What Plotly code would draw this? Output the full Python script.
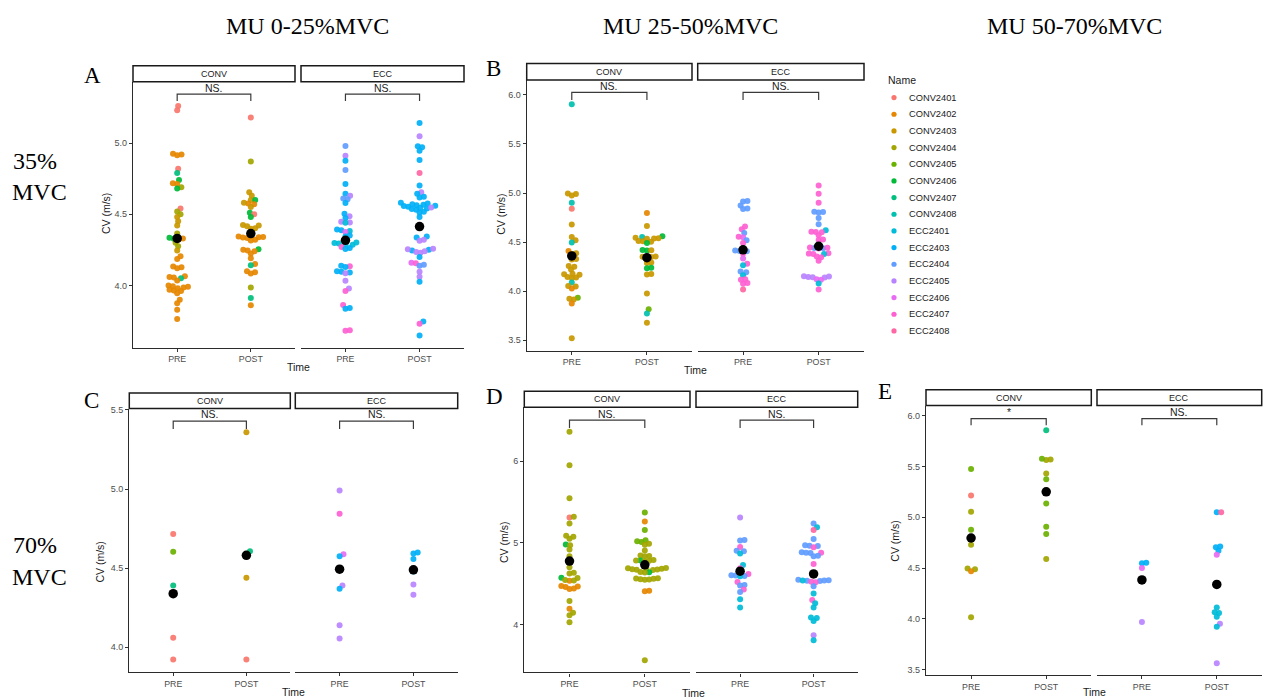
import math
import plotly.graph_objects as go

# ---------------- DATA ----------------
SUBJECTS = ["CONV2401", "CONV2402", "CONV2403", "CONV2404", "CONV2405", "CONV2406", "CONV2407", "CONV2408",
            "ECC2401", "ECC2403", "ECC2404", "ECC2405", "ECC2406", "ECC2407", "ECC2408"]
CODES = ["C1", "C2", "C3", "C4", "C5", "C6", "C7", "C8", "E1", "E3", "E4", "E5", "E6", "E7", "E8"]
COLORS = ["#F8766D", "#E58700", "#C99800", "#A3A500", "#6BB100", "#00BA38", "#00BF7D", "#00C0AF",
          "#00BCD8", "#00B0F6", "#619CFF", "#B983FF", "#E76BF3", "#FD61D1", "#FF67A4"]
TIMES = ["PRE", "POST"]
GROUPS = ["CONV", "ECC"]
COL_TITLES = ["MU 0-25%MVC", "MU 25-50%MVC", "MU 50-70%MVC"]

# Panel A (35% MVC, MU 0-25%)
A_CONV_PRE_ID = ["C1", "C1", "C2", "C2", "C2", "C1", "C7", "C6", "C2", "C2", "C4", "C6", "C1", "C4", "C4", "C3",
                 "C3", "C3", "C4", "C2", "C2", "C6", "C6", "C4", "C4", "C3", "C2", "C2", "C2", "C2", "C2", "C2",
                 "C2", "C2", "C7", "C2", "C2", "C2", "C2", "C2", "C2", "C2", "C2", "C2", "C2", "C2", "C2", "C2",
                 "C2"]
A_CONV_PRE_CV = [5.26, 5.23, 4.92, 4.925, 4.915, 4.82, 4.79, 4.74, 4.712, 4.718, 4.69, 4.68, 4.54, 4.52, 4.50, 4.48,
                 4.45, 4.42, 4.365, 4.322, 4.33, 4.334, 4.328, 4.30, 4.275, 4.245, 4.205, 4.185, 4.127, 4.133, 4.12,
                 4.055, 4.06, 4.065, 4.05, 4.035, 3.98, 3.985, 3.99, 3.995, 4.0, 3.96, 3.965, 3.97, 3.945, 3.90, 3.875,
                 3.83, 3.765]
A_CONV_POST_ID = ["C1", "C4", "C3", "C3", "C3", "C6", "C2", "C2", "C3", "C3", "C6", "C1", "C6", "C3", "C3", "C3",
                  "C3", "C3", "C2", "C2", "C2", "C2", "C2", "C2", "C2", "C2", "C6", "C2", "C2", "C2", "C2", "C2",
                  "C2", "C7", "C2", "C2", "C2", "C4", "C7", "C2"]
A_CONV_POST_CV = [5.18, 4.87, 4.655, 4.63, 4.60, 4.60, 4.57, 4.575, 4.58, 4.55, 4.51, 4.50, 4.48, 4.415, 4.42, 4.425,
                  4.398, 4.402, 4.333, 4.336, 4.34, 4.343, 4.347, 4.338, 4.315, 4.32, 4.254, 4.24, 4.245, 4.25, 4.224,
                  4.19, 4.15, 4.142, 4.093, 4.099, 4.084, 3.986, 3.911, 3.86]
A_ECC_PRE_ID = ["E4", "E5", "E3", "E4", "E3", "E3", "E5", "E4", "E4", "E3", "E3", "E5", "E3", "E5", "E5", "E1",
                "E1", "E3", "E3", "E6", "E3", "E3", "E1", "E1", "E1", "E1", "E1", "E7", "E3", "E3", "E7", "E3",
                "E3", "E3", "E3", "E3", "E5", "E5", "E5", "E7", "E7", "E3", "E3", "E7", "E7"]
A_ECC_PRE_CV = [4.98, 4.91, 4.875, 4.81, 4.713, 4.643, 4.63, 4.605, 4.611, 4.578, 4.503, 4.485, 4.473, 4.442, 4.448,
                4.44, 4.382, 4.387, 4.392, 4.375, 4.344, 4.35, 4.285, 4.29, 4.294, 4.298, 4.302, 4.27, 4.256, 4.262,
                4.135, 4.138, 4.13, 4.09, 4.096, 4.1, 4.085, 4.033, 3.979, 3.96, 3.862, 3.836, 3.842, 3.681, 3.685]
A_ECC_POST_ID = ["E3", "E5", "E3", "E3", "E3", "E3", "E8", "E3", "E5", "E3", "E3", "E3", "E3", "E3", "E3", "E3",
                 "E3", "E3", "E3", "E3", "E3", "E3", "E3", "E3", "E5", "E3", "E3", "E3", "E3", "E3", "E5", "E5",
                 "E3", "E3", "E5", "E5", "E5", "E5", "E5", "E3", "E6", "E7", "E4", "E4", "E5", "E5", "E3", "E3",
                 "E7", "E3"]
A_ECC_POST_CV = [5.14, 5.047, 4.971, 4.977, 4.946, 4.881, 4.79, 4.702, 4.655, 4.643, 4.617, 4.623, 4.553, 4.557,
                 4.56, 4.563, 4.566, 4.57, 4.575, 4.58, 4.532, 4.536, 4.54, 4.545, 4.548, 4.512, 4.518, 4.48, 4.337,
                 4.343, 4.314, 4.32, 4.246, 4.25, 4.254, 4.258, 4.23, 4.235, 4.24, 4.20, 4.159, 4.155, 4.139, 4.145,
                 4.096, 4.061, 4.026, 3.746, 3.73, 3.648]
A_MEANS = [4.33, 4.364, 4.317, 4.413]
A_SIG = ["NS.", "NS."]

# Panel B (35% MVC, MU 25-50%)
B_CONV_PRE_ID = ["C8", "C3", "C3", "C3", "C8", "C1", "C3", "C3", "C3", "C8", "C2", "C3", "C3", "C3", "C3", "C3",
                 "C3", "C3", "C3", "C3", "C3", "C3", "C3", "C3", "C8", "C3", "C3", "C2", "C5", "C3", "C3", "C2",
                 "C3"]
B_CONV_PRE_CV = [5.905, 4.99, 4.995, 4.975, 4.90, 4.84, 4.68, 4.552, 4.518, 4.495, 4.41, 4.38, 4.386, 4.322, 4.328,
                 4.25, 4.258, 4.22, 4.168, 4.173, 4.178, 4.134, 4.139, 4.144, 4.089, 4.048, 4.054, 4.028, 3.933,
                 3.916, 3.922, 3.876, 3.52]
B_CONV_POST_ID = ["C2", "C3", "C8", "C6", "C3", "C3", "C3", "C3", "C3", "C3", "C3", "C6", "C6", "C6", "C3", "C3",
                  "C3", "C3", "C3", "C3", "C3", "C6", "C6", "C3", "C3", "C3", "C5", "C8", "C3"]
B_CONV_POST_CV = [4.796, 4.664, 4.552, 4.559, 4.535, 4.54, 4.545, 4.538, 4.505, 4.508, 4.512, 4.49, 4.414, 4.42, 4.417,
                  4.346, 4.35, 4.354, 4.348, 4.288, 4.293, 4.234, 4.24, 4.17, 4.176, 3.977, 3.815, 3.774, 3.679]
B_ECC_PRE_ID = ["E4", "E4", "E4", "E4", "E4", "E7", "E7", "E4", "E6", "E7", "E4", "E7", "E4", "E4", "E4", "E7",
                "E6", "E7", "E1", "E4", "E4", "E1", "E7", "E7", "E7", "E7", "E8"]
B_ECC_PRE_CV = [4.914, 4.92, 4.874, 4.837, 4.843, 4.66, 4.63, 4.593, 4.55, 4.555, 4.518, 4.491, 4.406, 4.41, 4.414,
                4.383, 4.332, 4.28, 4.265, 4.194, 4.2, 4.163, 4.116, 4.122, 4.077, 4.083, 4.018]
B_ECC_POST_ID = ["E7", "E7", "E7", "E4", "E4", "E4", "E4", "E4", "E1", "E7", "E7", "E7", "E7", "E7", "E7", "E4",
                 "E4", "E7", "E7", "E7", "E7", "E7", "E7", "E1", "E7", "E7", "E7", "E5", "E5", "E5", "E5", "E5",
                 "E6", "E6", "E1", "E7"]
B_ECC_POST_CV = [5.077, 4.992, 4.901, 4.803, 4.806, 4.809, 4.745, 4.681, 4.62, 4.6, 4.603, 4.606, 4.569, 4.522,
                 4.528, 4.437, 4.44, 4.443, 4.446, 4.434, 4.38, 4.383, 4.386, 4.38, 4.347, 4.353, 4.31, 4.14, 4.143,
                 4.146, 4.149, 4.152, 4.116, 4.122, 4.078, 4.018]
B_MEANS = [4.359, 4.342, 4.422, 4.458]
B_SIG = ["NS.", "NS."]

# Panel C (70% MVC, MU 0-25%)
C_CONV_PRE_ID = ["C1", "C5", "C7", "C1", "C1"]
C_CONV_PRE_CV = [4.715, 4.604, 4.39, 4.059, 3.922]
C_CONV_POST_ID = ["C3", "C7", "C1", "C3", "C1"]
C_CONV_POST_CV = [5.359, 4.606, 4.59, 4.439, 3.922]
C_ECC_PRE_ID = ["E5", "E7", "E6", "E3", "E5", "E3", "E5", "E5"]
C_ECC_PRE_CV = [4.99, 4.843, 4.588, 4.575, 4.39, 4.369, 4.139, 4.055]
C_ECC_POST_ID = ["E3", "E3", "E3", "E3", "E5", "E5"]
C_ECC_POST_CV = [4.593, 4.599, 4.558, 4.478, 4.397, 4.332]
C_MEANS = [4.338, 4.581, 4.493, 4.489]
C_SIG = ["NS.", "NS."]

# Panel D (70% MVC, MU 25-50%)
D_CONV_PRE_ID = ["C4", "C4", "C4", "C1", "C4", "C4", "C4", "C4", "C4", "C6", "C4", "C4", "C4", "C2", "C4", "C4",
                 "C4", "C6", "C4", "C2", "C4", "C4", "C2", "C2", "C2", "C2", "C2", "C4", "C2", "C4", "C4", "C4"]
D_CONV_PRE_CV = [6.357, 5.947, 5.546, 5.31, 5.32, 5.237, 5.075, 5.085, 5.05, 4.98, 4.97, 4.917, 4.836, 4.78, 4.70,
                 4.625, 4.635, 4.572, 4.57, 4.535, 4.54, 4.545, 4.46, 4.466, 4.472, 4.435, 4.441, 4.288, 4.195, 4.146,
                 4.114, 4.03]
D_CONV_POST_ID = ["C5", "C2", "C5", "C5", "C5", "C5", "C4", "C4", "C4", "C4", "C4", "C4", "C6", "C4", "C4", "C4",
                  "C4", "C4", "C4", "C4", "C4", "C4", "C4", "C4", "C4", "C6", "C4", "C4", "C4", "C4", "C4", "C4",
                  "C4", "C4", "C2", "C2", "C4"]
D_CONV_POST_CV = [5.371, 5.262, 5.156, 5.01, 5.02, 5.03, 4.975, 4.99, 4.905, 4.835, 4.84, 4.845, 4.783, 4.775, 4.78,
                  4.785, 4.79, 4.67, 4.674, 4.678, 4.682, 4.686, 4.69, 4.668, 4.692, 4.64, 4.636, 4.644, 4.552,
                  4.556, 4.56, 4.564, 4.568, 4.548, 4.407, 4.413, 3.566]
D_ECC_PRE_ID = ["E5", "E4", "E4", "E7", "E4", "E4", "E1", "E1", "E7", "E7", "E4", "E4", "E4", "E1", "E7", "E4",
                "E4", "E7", "E4", "E1", "E1"]
D_ECC_PRE_CV = [5.31, 5.027, 5.033, 4.95, 4.897, 4.903, 4.87, 4.73, 4.69, 4.62, 4.596, 4.6, 4.604, 4.59, 4.52, 4.477,
                4.483, 4.43, 4.40, 4.31, 4.21]
D_ECC_POST_ID = ["E4", "E1", "E8", "E4", "E4", "E4", "E4", "E7", "E4", "E4", "E4", "E7", "E4", "E4", "E7", "E4",
                 "E4", "E4", "E4", "E4", "E1", "E7", "E7", "E4", "E1", "E7", "E1", "E1", "E1", "E1", "E1", "E5",
                 "E1"]
D_ECC_POST_CV = [5.237, 5.19, 5.156, 5.047, 4.96, 4.965, 4.97, 4.945, 4.875, 4.88, 4.885, 4.88, 4.837, 4.843, 4.74,
                 4.532, 4.536, 4.54, 4.544, 4.548, 4.54, 4.517, 4.523, 4.47, 4.38, 4.30, 4.26, 4.21, 4.082, 4.088,
                 4.045, 3.87, 3.81]
D_MEANS = [4.777, 4.731, 4.653, 4.62]
D_SIG = ["NS.", "NS."]

# Panel E (70% MVC, MU 50-70%)
E_CONV_PRE_ID = ["C5", "C1", "C4", "C5", "C4", "C4", "C4", "C2", "C4"]
E_CONV_PRE_CV = [5.476, 5.215, 5.054, 4.878, 4.73, 4.488, 4.494, 4.468, 4.014]
E_CONV_POST_ID = ["C7", "C4", "C4", "C5", "C4", "C5", "C5", "C5", "C5", "C4"]
E_CONV_POST_CV = [5.859, 5.566, 5.571, 5.577, 5.431, 5.375, 5.136, 4.907, 4.835, 4.59]
E_ECC_PRE_ID = ["E3", "E3", "E6", "E5"]
E_ECC_PRE_CV = [4.547, 4.553, 4.50, 3.968]
E_ECC_POST_ID = ["E3", "E8", "E3", "E3", "E3", "E6", "E1", "E1", "E1", "E1", "E5", "E1", "E5"]
E_ECC_POST_CV = [5.05, 5.05, 4.705, 4.712, 4.67, 4.63, 4.11, 4.057, 4.063, 4.02, 3.95, 3.92, 3.56]
E_MEANS = [4.796, 5.251, 4.383, 4.338]
E_SIG = ["*", "NS."]

PANEL_DATA = {
    "A": ([[A_CONV_PRE_ID, A_CONV_PRE_CV], [A_CONV_POST_ID, A_CONV_POST_CV],
           [A_ECC_PRE_ID, A_ECC_PRE_CV], [A_ECC_POST_ID, A_ECC_POST_CV]], A_MEANS, A_SIG),
    "B": ([[B_CONV_PRE_ID, B_CONV_PRE_CV], [B_CONV_POST_ID, B_CONV_POST_CV],
           [B_ECC_PRE_ID, B_ECC_PRE_CV], [B_ECC_POST_ID, B_ECC_POST_CV]], B_MEANS, B_SIG),
    "C": ([[C_CONV_PRE_ID, C_CONV_PRE_CV], [C_CONV_POST_ID, C_CONV_POST_CV],
           [C_ECC_PRE_ID, C_ECC_PRE_CV], [C_ECC_POST_ID, C_ECC_POST_CV]], C_MEANS, C_SIG),
    "D": ([[D_CONV_PRE_ID, D_CONV_PRE_CV], [D_CONV_POST_ID, D_CONV_POST_CV],
           [D_ECC_PRE_ID, D_ECC_PRE_CV], [D_ECC_POST_ID, D_ECC_POST_CV]], D_MEANS, D_SIG),
    "E": ([[E_CONV_PRE_ID, E_CONV_PRE_CV], [E_CONV_POST_ID, E_CONV_POST_CV],
           [E_ECC_PRE_ID, E_ECC_PRE_CV], [E_ECC_POST_ID, E_ECC_POST_CV]], E_MEANS, E_SIG),
}

# ---------------- LAYOUT (pixel geometry) ----------------
W, H = 1263, 698
PANEL_BOX = {
    "A": dict(conv=(133, 295), ecc=(301, 464), top=79, bottom=346, strip=63, yr=(3.564, 5.431),
              ticks=[4.0, 4.5, 5.0], fmt="{:.1f}", br=(5.343, 5.296, 5.385),
              ytitle=(106, 212), xtitle=(298, 366), letter=(82, 73)),
    "B": dict(conv=(526.7, 692), ecc=(697.7, 864), top=77.3, bottom=349, strip=60.7, yr=(3.396, 6.152),
              ticks=[3.5, 4.0, 4.5, 5.0, 5.5, 6.0], fmt="{:.1f}", br=(6.026, 5.949, 6.086),
              ytitle=(500.7, 212), xtitle=(695, 369), letter=(484, 66)),
    "C": dict(conv=(129.3, 290.3), ecc=(295.3, 457.7), top=407.3, bottom=671.7, strip=391.7, yr=(3.844, 5.509),
              ticks=[4.0, 4.5, 5.0, 5.5], fmt="{:.1f}", br=(5.429, 5.380, 5.473),
              ytitle=(100, 562), xtitle=(293, 692), letter=(82, 399)),
    "D": dict(conv=(524.3, 690), ecc=(696, 857.7), top=406, bottom=672.3, strip=390, yr=(3.416, 6.657),
              ticks=[4, 5, 6], fmt="{:.0f}", br=(6.499, 6.405, 6.577),
              ytitle=(503.3, 542), xtitle=(693, 693), letter=(484, 395)),
    "E": dict(conv=(926, 1091.3), ecc=(1097, 1261.7), top=404.3, bottom=675, strip=388.3, yr=(3.444, 6.102),
              ticks=[3.5, 4.0, 4.5, 5.0, 5.5, 6.0], fmt="{:.1f}", br=(5.974, 5.909, 6.040),
              ytitle=(895, 540), xtitle=(1094, 692), letter=(876, 390)),
}
PT_SIZE = 6
PT_GAP = 4.4
SANS = "Liberation Sans, Arial, sans-serif"
SERIF = "Liberation Serif, Times New Roman, serif"
COLOR_OF = dict(zip(CODES, COLORS))
NAME_OF = dict(zip(CODES, SUBJECTS))


def px_x(p):
    return p / W


def px_y(p):
    return 1 - p / H


def swarm_offsets(vals, ppu_x, ppu_y, d):
    n = len(vals)
    order = sorted(range(n), key=lambda i: vals[i])
    placed = []
    out = [0.0] * n
    for i in order:
        y = vals[i] * ppu_y
        near = [(px, py) for (px, py) in placed if abs(py - y) < d]
        cands = [0.0]
        for px, py in near:
            dx = math.sqrt(max(d * d - (py - y) ** 2, 0.0))
            cands.extend([px + dx, px - dx])
        cands.sort(key=lambda c: (round(abs(c), 6), -c))
        for c in cands:
            if all((c - px) ** 2 + (y - py) ** 2 >= d * d - 1e-6 for px, py in near):
                out[i] = c
                break
        placed.append((out[i], y))
    return [o / ppu_x for o in out]


fig = go.Figure()
layout = dict(width=W, height=H, margin=dict(l=0, r=0, t=0, b=0), paper_bgcolor="white",
              plot_bgcolor="white", showlegend=False, font=dict(family=SANS))
shapes = []
annotations = []

k = 0
for key, box in PANEL_BOX.items():
    groups_data, means, sigs = PANEL_DATA[key]
    ymin, ymax = box["yr"]
    ppu_y = (box["bottom"] - box["top"]) / (ymax - ymin)
    for fi, facet in enumerate(GROUPS):
        k += 1
        xname = "xaxis" if k == 1 else f"xaxis{k}"
        yname = "yaxis" if k == 1 else f"yaxis{k}"
        xr = "x" if k == 1 else f"x{k}"
        yr = "y" if k == 1 else f"y{k}"
        x0, x1 = box["conv"] if fi == 0 else box["ecc"]
        ppu_x = (x1 - x0) / 2.2
        layout[xname] = dict(domain=[px_x(x0), px_x(x1)], anchor=yr, range=[0.4, 2.6],
                             tickvals=[1, 2], ticktext=TIMES, showgrid=False, zeroline=False,
                             showline=True, linecolor="#2b2b2b", linewidth=1.3, ticks="outside",
                             ticklen=3, tickwidth=1, tickcolor="#333333",
                             tickfont=dict(size=8.8, color="#4D4D4D", family=SANS), fixedrange=True)
        ydict = dict(domain=[px_y(box["bottom"]), px_y(box["top"])], anchor=xr, range=[ymin, ymax],
                     showgrid=False, zeroline=False, fixedrange=True)
        if fi == 0:
            ydict.update(showline=True, linecolor="#2b2b2b", linewidth=1.3, ticks="outside", ticklen=3,
                         tickwidth=1, tickcolor="#333333", tickvals=box["ticks"],
                         ticktext=[box["fmt"].format(t) for t in box["ticks"]],
                         tickfont=dict(size=9, color="#4D4D4D", family=SANS))
        else:
            ydict.update(visible=False)
        layout[yname] = ydict

        for ti in range(2):
            ids, vals = groups_data[fi * 2 + ti]
            offs = swarm_offsets(vals, ppu_x, ppu_y, PT_GAP)
            fig.add_trace(go.Scatter(
                x=[ti + 1 + o for o in offs], y=vals, mode="markers", xaxis=xr, yaxis=yr,
                marker=dict(size=PT_SIZE, color=[COLOR_OF[c] for c in ids], opacity=0.92,
                            line=dict(width=0)),
                text=[NAME_OF[c] for c in ids], hoverinfo="text+y", showlegend=False))
        fig.add_trace(go.Scatter(
            x=[1, 2], y=means[fi * 2: fi * 2 + 2], mode="markers", xaxis=xr, yaxis=yr,
            marker=dict(size=9.5, color="black", line=dict(width=0)), showlegend=False,
            hoverinfo="y"))

        # strip
        shapes.append(dict(type="rect", xref="paper", yref="paper", x0=px_x(x0), x1=px_x(x1),
                           y0=px_y(box["top"]), y1=px_y(box["strip"]),
                           line=dict(color="#1a1a1a", width=1.5), fillcolor="white", layer="above"))
        annotations.append(dict(text=facet, xref="paper", yref="paper", x=px_x((x0 + x1) / 2),
                                y=px_y((box["top"] + box["strip"]) / 2), showarrow=False,
                                xanchor="center", yanchor="middle",
                                font=dict(size=9, color="#1A1A1A", family=SANS)))
        # significance bracket
        hi, lo, ty = box["br"]
        shapes.append(dict(type="path", xref=xr, yref=yr,
                           path=f"M 1,{lo} L 1,{hi} L 2,{hi} L 2,{lo}",
                           line=dict(color="#3a3a3a", width=1.2)))
        annotations.append(dict(text=sigs[fi], xref=xr, yref=yr, x=1.5, y=ty, showarrow=False,
                                xanchor="center", yanchor="middle",
                                font=dict(size=10.5, color="#222222", family=SANS)))

    # axis titles
    tx, tyy = box["ytitle"]
    annotations.append(dict(text="CV (m/s)", xref="paper", yref="paper", x=px_x(tx), y=px_y(tyy),
                            textangle=-90, showarrow=False, xanchor="center", yanchor="middle",
                            font=dict(size=10.5, color="#1A1A1A", family=SANS)))
    tx, tyy = box["xtitle"]
    annotations.append(dict(text="Time", xref="paper", yref="paper", x=px_x(tx), y=px_y(tyy),
                            showarrow=False, xanchor="center", yanchor="middle",
                            font=dict(size=10.5, color="#1A1A1A", family=SANS)))
    lx, ly = box["letter"]
    annotations.append(dict(text=key, xref="paper", yref="paper", x=px_x(lx), y=px_y(ly),
                            showarrow=False, xanchor="left", yanchor="middle",
                            font=dict(size=23, color="black", family=SERIF)))

# column titles
for title, cx in zip(COL_TITLES, [307.5, 690, 1074]):
    annotations.append(dict(text=title, xref="paper", yref="paper", x=px_x(cx), y=px_y(23),
                            showarrow=False, xanchor="center", yanchor="middle",
                            font=dict(size=24, color="black", family=SERIF)))
# row labels
for txt, y in [("35%", 159), ("MVC", 190), ("70%", 544), ("MVC", 576)]:
    annotations.append(dict(text=txt, xref="paper", yref="paper", x=px_x(10 if txt == "MVC" else 11),
                            y=px_y(y), showarrow=False, xanchor="left", yanchor="middle",
                            font=dict(size=24, color="black", family=SERIF)))

# legend (drawn as swatches + text)
annotations.append(dict(text="Name", xref="paper", yref="paper", x=px_x(886), y=px_y(77),
                        showarrow=False, xanchor="left", yanchor="middle",
                        font=dict(size=10.5, color="#1A1A1A", family=SANS)))
for i, (code, name) in enumerate(zip(CODES, SUBJECTS)):
    cy = 95 + i * 16.74
    r = 2.6
    shapes.append(dict(type="circle", xref="paper", yref="paper", x0=px_x(894 - r), x1=px_x(894 + r),
                       y0=px_y(cy + r), y1=px_y(cy - r), fillcolor=COLOR_OF[code],
                       line=dict(width=0)))
    annotations.append(dict(text=name, xref="paper", yref="paper", x=px_x(907), y=px_y(cy),
                            showarrow=False, xanchor="left", yanchor="middle",
                            font=dict(size=9.3, color="#1A1A1A", family=SANS)))

layout["shapes"] = shapes
layout["annotations"] = annotations
fig.update_layout(**layout)
fig.write_html("out.html", config={"displayModeBar": False},
               post_script="document.body.style.margin='0';document.body.style.overflow='hidden';")
